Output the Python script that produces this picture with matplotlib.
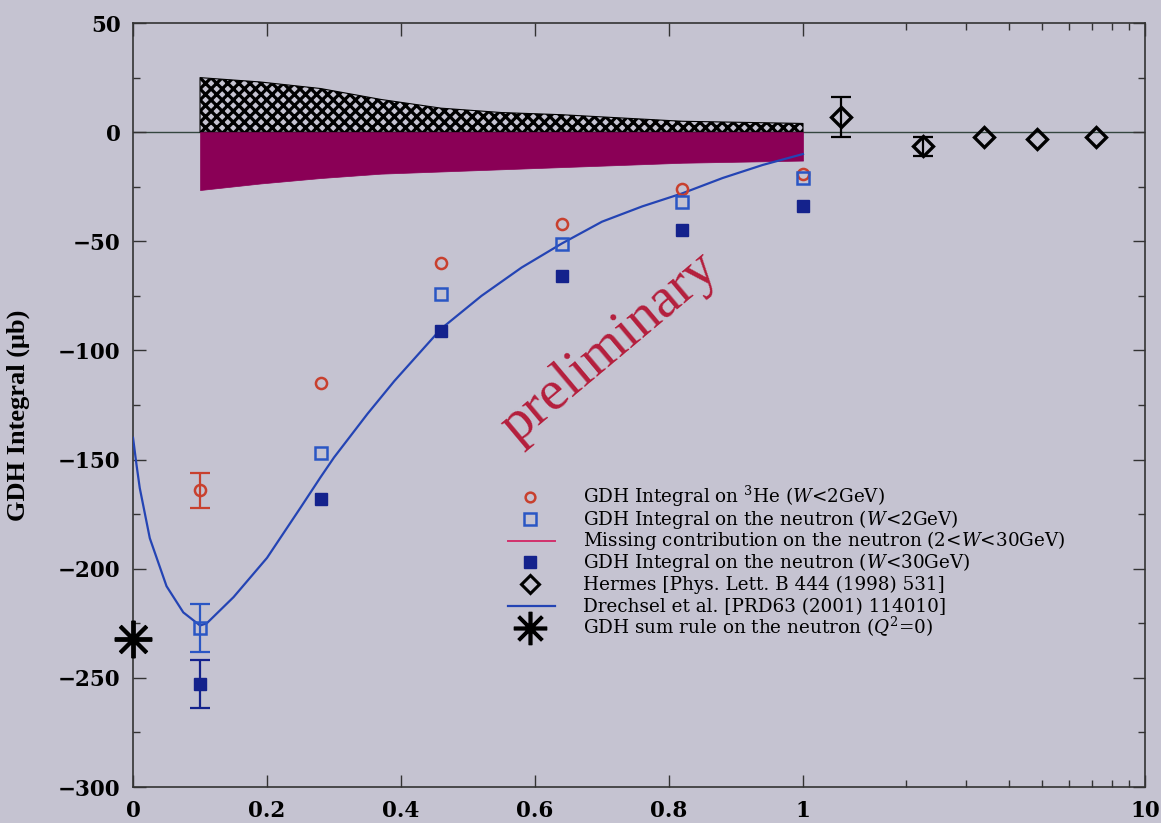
import numpy as np
import matplotlib
matplotlib.use("Agg")
import matplotlib.pyplot as plt

plt.rcParams["font.family"] = ["Liberation Serif", "DejaVu Serif"]
plt.rcParams["mathtext.fontset"] = "custom"
plt.rcParams["mathtext.rm"] = "DejaVu Serif"
plt.rcParams["mathtext.it"] = "DejaVu Serif:italic"
plt.rcParams["hatch.linewidth"] = 2.3

# E94-010 Q^2 bins (GeV^2)
q2 = [0.10, 0.28, 0.46, 0.64, 0.82, 1.00]
he3_w2 = [-164, -115, -60, -42, -26, -19]
he3_err = [8, 0, 0, 0, 0, 0]
n_w2 = [-227, -147, -74, -51, -32, -21]
n_w2_err = [11, 0, 0, 0, 0, 0]
n_w30 = [-253, -168, -91, -66, -45, -34]
n_w30_err = [11, 0, 0, 0, 0, 0]

# bands: systematic error (hatched) and missing 2<W<30 GeV part
band_q2 = [0.10, 0.19, 0.28, 0.37, 0.46, 0.55, 0.64, 0.73, 0.82, 0.91, 1.00]
syst_top = [25, 23, 20, 15, 11, 9, 8, 6.5, 5, 4.5, 4]
missing = [-26.5, -23.5, -21, -19, -18, -17, -16, -15, -14, -13.5, -13]

# Hermes
hermes_q2 = [1.29, 2.25, 3.39, 4.84, 7.19]
hermes = [6.8, -6.5, -2.4, -3.1, -2.4]
hermes_err = [9.2, 4.2, 0, 0, 0]

# Drechsel et al. MAID curve
maid_q2 = [0.0, 0.005, 0.01, 0.025, 0.05, 0.075, 0.10, 0.11, 0.12, 0.15, 0.20,
           0.25, 0.28, 0.30, 0.35, 0.39, 0.46, 0.52, 0.58, 0.64, 0.70, 0.76,
           0.82, 0.88, 0.94, 1.00]
maid = [-140, -152, -163, -186, -208, -220, -226, -225, -222, -213, -195,
        -172, -158, -149, -129, -114, -90, -75, -62, -51, -41, -34,
        -28, -21, -15, -10]

# GDH sum rule at Q^2 = 0
gdh_q2 = [0.0]
gdh = [-232]

# linear up to 1 GeV^2, one log decade after that
K = 342 / 670


def fwd(x):
    x = np.asarray(x, float)
    return np.where(x <= 1, x, 1 + K * np.log10(np.maximum(x, 1)))


def inv(u):
    u = np.asarray(u, float)
    with np.errstate(over="ignore"):
        return np.where(u <= 1, u, 10 ** ((np.minimum(u, 3) - 1) / K))


bg = "#c5c3d1"
red = "#c8402e"
blue_open = "#2a56c4"
navy = "#14228c"
magenta = "#8a0056"
line_blue = "#2444b4"

fig = plt.figure(figsize=(11.61, 8.23), dpi=100, facecolor=bg)
ax = fig.add_axes([0.1146, 0.0437, 0.8716, 0.9283], facecolor=bg)
ax.set_xscale("function", functions=(fwd, inv))
ax.set_xlim(0, 10)
ax.set_ylim(-300, 50)

ax.axhline(0, color="#34463f", lw=1.0, zorder=1)

ax.fill_between(band_q2, 0, syst_top, facecolor="none", edgecolor="black",
                hatch="xxx", linewidth=0.8, zorder=2)
ax.fill_between(band_q2, missing, 0, facecolor=magenta, edgecolor=magenta,
                linewidth=0.5, zorder=2)

ax.plot(maid_q2, maid, color=line_blue, lw=1.6, zorder=3)


def with_errors(x, y, e, color):
    xs = [a for a, b in zip(x, e) if b > 0]
    ys = [a for a, b in zip(y, e) if b > 0]
    es = [b for b in e if b > 0]
    ax.errorbar(xs, ys, yerr=es, fmt="none", ecolor=color, elinewidth=1.6,
                capsize=7.5, capthick=1.6, zorder=4)


with_errors(q2, he3_w2, he3_err, red)
with_errors(q2, n_w2, n_w2_err, blue_open)
with_errors(q2, n_w30, n_w30_err, navy)
with_errors(hermes_q2, hermes, hermes_err, "black")

ax.plot(q2, he3_w2, ls="none", marker="o", ms=8, mfc="none", mec=red,
        mew=1.8, zorder=5)
ax.plot(q2, n_w2, ls="none", marker="s", ms=9, mfc="none", mec=blue_open,
        mew=1.8, zorder=5)
ax.plot(q2, n_w30, ls="none", marker="s", ms=9, mfc=navy, mec=navy,
        mew=1.0, zorder=5)
ax.plot(hermes_q2, hermes, ls="none", marker="D", ms=10, mfc="none",
        mec="black", mew=2.4, zorder=5)
ax.plot(gdh_q2, gdh, ls="none", marker=(8, 2, 0), ms=27, mec="black",
        mew=2.8, clip_on=False, zorder=6)

ax.text(0.471, 0.575, "preliminary", transform=ax.transAxes, rotation=40,
        ha="center", va="center", rotation_mode="anchor", fontsize=41,
        color="#b41e3c", zorder=6)

# key, one row per entry with an even row pitch
keys = [
    dict(marker="o", ms=7, mfc="none", mec=red, mew=1.8),
    dict(marker="s", ms=9, mfc="none", mec=blue_open, mew=1.8),
    dict(color="#d2306c", lw=1.4),
    dict(marker="s", ms=9, mfc=navy, mec=navy),
    dict(marker="D", ms=9, mfc="none", mec="black", mew=2.2),
    dict(color=line_blue, lw=1.6),
    dict(marker=(8, 2, 0), ms=24, mec="black", mew=2.6),
]
labels = [
    r"GDH Integral on $^{3}$He ($W$<2GeV)",
    r"GDH Integral on the neutron ($W$<2GeV)",
    r"Missing contribution on the neutron (2<$W$<30GeV)",
    r"GDH Integral on the neutron ($W$<30GeV)",
    "Hermes [Phys. Lett. B 444 (1998) 531]",
    "Drechsel et al. [PRD63 (2001) 114010]",
    r"GDH sum rule on the neutron ($Q^{2}$=0)",
]
row0, pitch = 0.3796, 0.02853
for i, (style, label) in enumerate(zip(keys, labels)):
    y = row0 - i * pitch
    if "marker" in style:
        ax.plot([0.3923], [y], ls="none", transform=ax.transAxes,
                clip_on=False, zorder=6, **style)
    else:
        ax.plot([0.3706, 0.4170], [y, y], transform=ax.transAxes,
                clip_on=False, zorder=6, **style)
    ax.text(0.4447, y - 0.0075, label, transform=ax.transAxes,
            va="baseline", ha="left", family="DejaVu Serif", fontsize=13.2,
            zorder=6)

ax.set_xticks([0, 0.2, 0.4, 0.6, 0.8, 1, 10])
ax.set_xticklabels(["0", "0.2", "0.4", "0.6", "0.8", "1", "10"])
ax.set_xticks([2, 3, 4, 5, 6, 7, 8, 9], minor=True)
ax.set_yticks(range(-300, 51, 50))
ax.set_yticklabels([str(v).replace("-", "\u2212") for v in range(-300, 51, 50)])
ax.set_yticks(range(-300, 51, 25), minor=True)
ax.tick_params(which="both", direction="in", top=True, right=True,
               color="#333333", width=1.0)
ax.tick_params(which="major", length=9, pad=9)
ax.tick_params(which="minor", length=5)
for lab in ax.get_xticklabels() + ax.get_yticklabels():
    lab.set_family("DejaVu Serif")
    lab.set_fontweight("bold")
    lab.set_fontsize(15.5)
for sp in ax.spines.values():
    sp.set_color("#333333")
    sp.set_linewidth(1.2)

ax.set_ylabel("GDH Integral (\u03bcb)", fontsize=19, fontweight="bold")
ax.yaxis.set_label_coords(-0.102, 0.487)

fig.savefig("out.png", dpi=100, facecolor=bg)
